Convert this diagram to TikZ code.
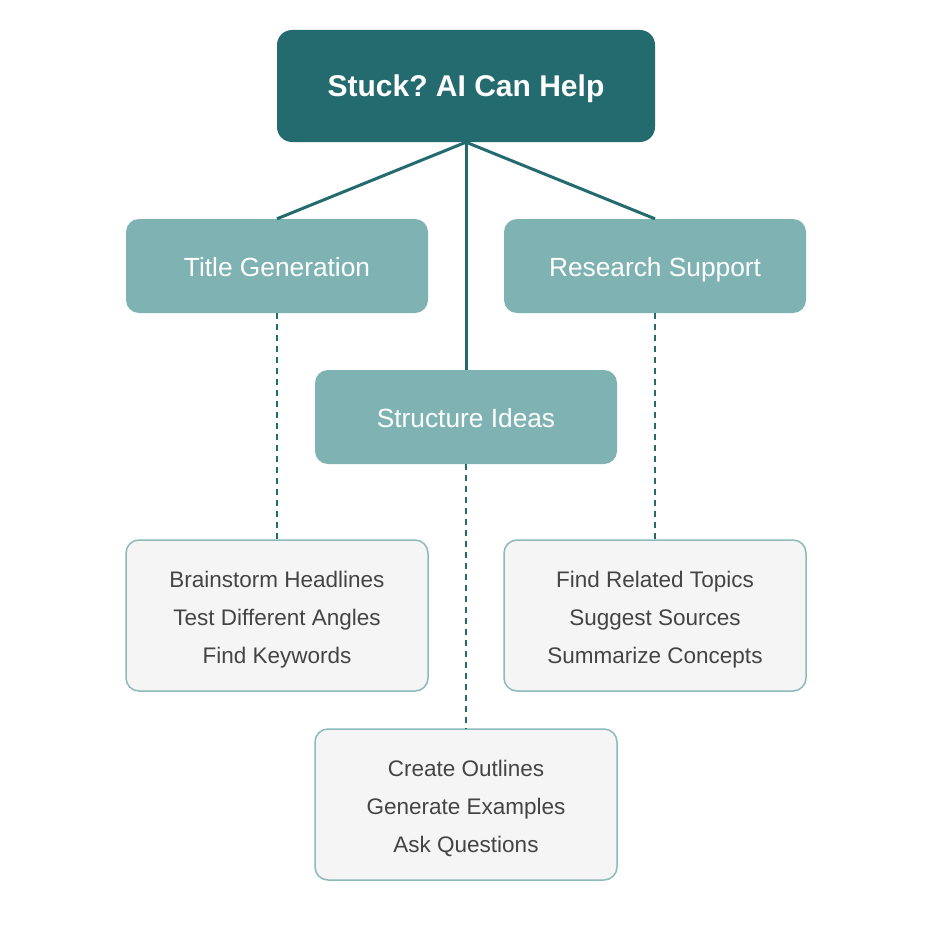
\documentclass[tikz,border=0pt]{standalone}
\usepackage{fontspec}
\setmainfont{Liberation Sans}
\definecolor{dark}{HTML}{246B6F}
\definecolor{mid}{HTML}{7FB2B2}
\definecolor{light}{HTML}{F5F5F5}
\definecolor{lborder}{HTML}{8CBABA}
\definecolor{txt}{HTML}{444444}
\frenchspacing
\newcommand{\leaftext}[3]{\raisebox{-2pt}[\height][\depth]{\begin{tabular}{@{}c@{}}#1\\#2\\#3\end{tabular}}}
\begin{document}
\begin{tikzpicture}[x=1pt,y=-1pt,
  topbox/.style={fill=dark, rounded corners=15pt, minimum width=378pt, minimum height=112pt, inner sep=0pt, text=white, text height=27pt, text depth=6pt, font=\fontsize{30}{34}\selectfont\bfseries},
  midbox/.style={fill=mid, rounded corners=13pt, minimum width=302pt, minimum height=94pt, inner sep=0pt, text=white, text height=25pt, text depth=5pt, font=\fontsize{26.3}{30}\selectfont},
  leafbox/.style={fill=light, draw=lborder, line width=1.5pt, rounded corners=13pt, minimum width=302pt, minimum height=151pt, inner sep=0pt, text=txt, font=\fontsize{22.5}{38}\selectfont},
  solidlink/.style={draw=dark, line width=3pt},
  dashlink/.style={draw=dark, line width=1.5pt, dash pattern=on 6pt off 5pt}]
\useasboundingbox (0,0) rectangle (931,931);
\fill[white] (0,0) rectangle (931,931);
\node[topbox] (top) at (466,86) {Stuck? AI Can Help};
\node[midbox] (title) at (277,266) {Title Generation};
\node[midbox] (research) at (655,266) {Research Support};
\node[midbox] (structure) at (466,417) {Structure Ideas};
\node[leafbox] (tleaf) at (277,615.5) {\leaftext{Brainstorm Headlines}{Test Different Angles}{Find Keywords}};
\node[leafbox] (rleaf) at (655,615.5) {\leaftext{Find Related Topics}{Suggest Sources}{Summarize Concepts}};
\node[leafbox] (sleaf) at (466,804.5) {\leaftext{Create Outlines}{Generate Examples}{Ask Questions}};
\draw[solidlink] (top.south) -- (title.north);
\draw[solidlink] (top.south) -- (structure.north);
\draw[solidlink] (top.south) -- (research.north);
\draw[dashlink] (title.south) -- (tleaf.north);
\draw[dashlink] (research.south) -- (rleaf.north);
\draw[dashlink] (structure.south) -- (sleaf.north);
\end{tikzpicture}
\end{document}
